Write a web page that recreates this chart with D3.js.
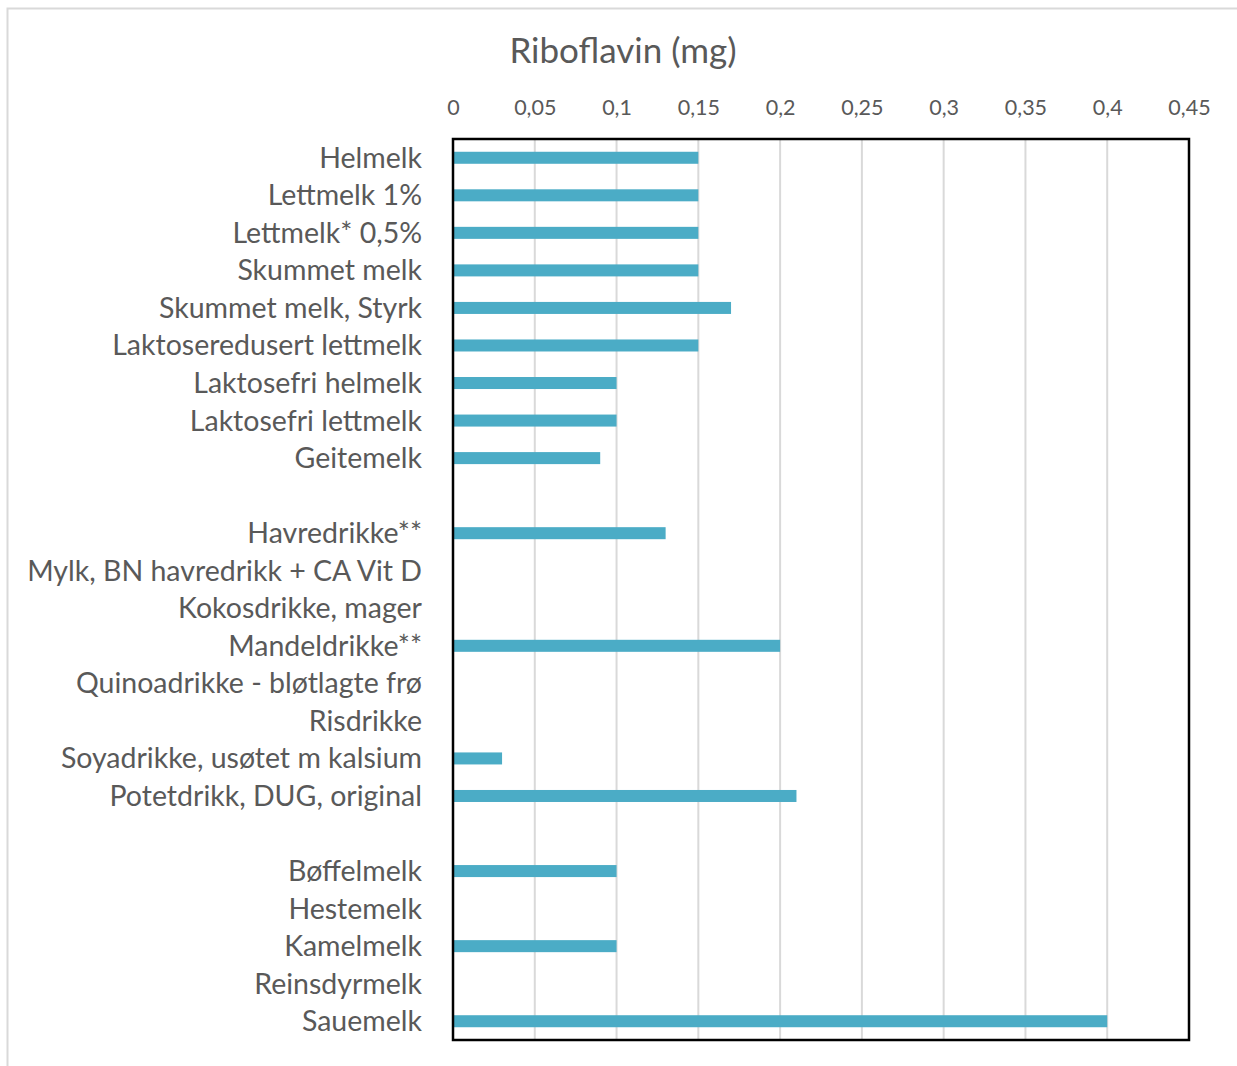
<!DOCTYPE html>
<html>
<head>
<meta charset="utf-8">
<script src="https://cdn.jsdelivr.net/npm/d3@7"></script>
<style>
  html, body { margin: 0; padding: 0; background: #fff; }
  svg { display: block; }
</style>
</head>
<body>
<svg id="chart" width="1237" height="1066"></svg>
<script>
// Drink categories, top to bottom; empty strings are spacer rows between groups
const categories = [
  "Helmelk", "Lettmelk 1%", "Lettmelk* 0,5%", "Skummet melk", "Skummet melk, Styrk",
  "Laktoseredusert lettmelk", "Laktosefri helmelk", "Laktosefri lettmelk", "Geitemelk",
  "",
  "Havredrikke**", "Mylk, BN havredrikk + CA Vit D", "Kokosdrikke, mager", "Mandeldrikke**",
  "Quinoadrikke - bløtlagte frø", "Risdrikke", "Soyadrikke, usøtet m kalsium", "Potetdrikk, DUG, original",
  "",
  "Bøffelmelk", "Hestemelk", "Kamelmelk", "Reinsdyrmelk", "Sauemelk"
];
// Riboflavin per serving (mg); null where no value is given
const riboflavin = [
  0.15, 0.15, 0.15, 0.15, 0.17, 0.15, 0.10, 0.10, 0.09,
  null,
  0.13, null, null, 0.20, null, null, 0.03, 0.21,
  null,
  0.10, null, 0.10, null, 0.40
];
const tickValues = [0, 0.05, 0.1, 0.15, 0.2, 0.25, 0.3, 0.35, 0.4, 0.45];
const tickLabels = ["0", "0,05", "0,1", "0,15", "0,2", "0,25", "0,3", "0,35", "0,4", "0,45"];
const chartTitle = "Riboflavin (mg)";

const svg = d3.select("#chart");
const font = "Lato, 'Open Sans', sans-serif";

// outer chart frame
svg.append("rect")
  .attr("x", 7.5).attr("y", 8.5).attr("width", 1260).attr("height", 1080)
  .attr("fill", "#fff").attr("stroke", "#d9d9d9").attr("stroke-width", 2);

const plot = { left: 453, right: 1189, top: 139, bottom: 1040 };

const x = d3.scaleLinear().domain([0, 0.45]).range([plot.left, plot.right]);
const y = d3.scaleBand()
  .domain(categories.map((c, i) => i))
  .range([plot.top, plot.bottom])
  .paddingInner(0.68).paddingOuter(0.34);

// vertical gridlines
svg.append("g").selectAll("line")
  .data(tickValues.slice(1, -1))
  .join("line")
  .attr("x1", d => x(d)).attr("x2", d => x(d))
  .attr("y1", plot.top).attr("y2", plot.bottom)
  .attr("stroke", "#d9d9d9").attr("stroke-width", 2);

// top axis labels
const xAxis = d3.axisTop(x)
  .tickValues(tickValues)
  .tickFormat((d, i) => tickLabels[i])
  .tickSize(0).tickPadding(0);
const gx = svg.append("g").attr("transform", `translate(0, ${plot.top - 24})`).call(xAxis);
gx.select(".domain").remove();
gx.selectAll("text")
  .attr("font-family", font).attr("font-size", 21.5).attr("fill", "#595959");

// bars
svg.append("g").selectAll("rect")
  .data(riboflavin.map((v, i) => ({ v, i })).filter(d => d.v !== null))
  .join("rect")
  .attr("x", x(0))
  .attr("y", d => y(d.i))
  .attr("width", d => x(d.v) - x(0))
  .attr("height", y.bandwidth())
  .attr("fill", "#4bacc6");

// plot border
svg.append("rect")
  .attr("x", plot.left).attr("y", plot.top)
  .attr("width", plot.right - plot.left).attr("height", plot.bottom - plot.top)
  .attr("fill", "none").attr("stroke", "#000").attr("stroke-width", 2.5);

// category labels
const yAxis = d3.axisLeft(y)
  .tickFormat(i => categories[i])
  .tickSize(0).tickPadding(0);
const gy = svg.append("g").attr("transform", `translate(${plot.left - 31}, 0)`).call(yAxis);
gy.select(".domain").remove();
gy.selectAll("text")
  .attr("font-family", font).attr("font-size", 28.5).attr("fill", "#595959")
  .attr("dy", "0.35em");

// title
svg.append("text")
  .attr("x", 623).attr("y", 63)
  .attr("text-anchor", "middle")
  .attr("font-family", font).attr("font-size", 35).attr("fill", "#595959")
  .text(chartTitle);
</script>
</body>
</html>
